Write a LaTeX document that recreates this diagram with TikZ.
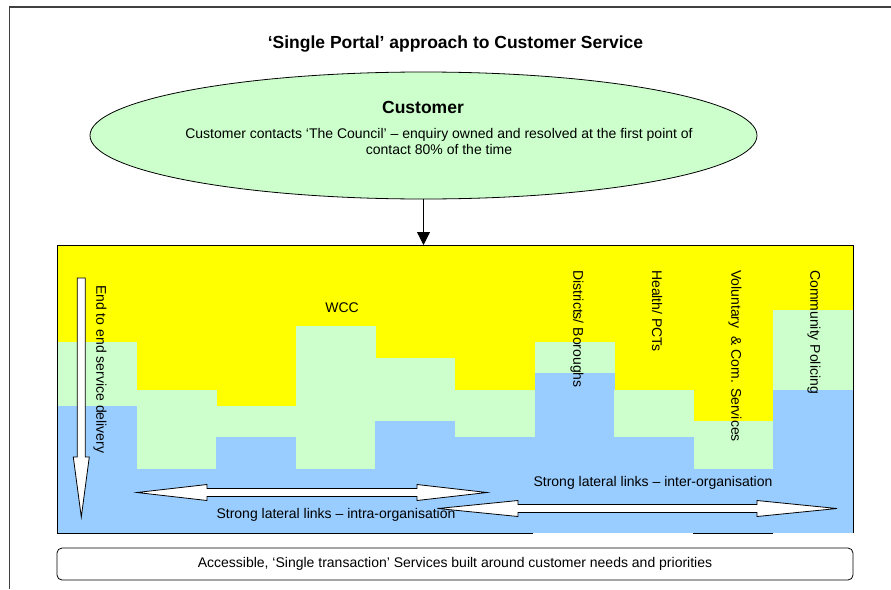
\documentclass[tikz,border=0pt]{standalone}
\usepackage{fontspec}
\setmainfont{Liberation Sans}
\usetikzlibrary{shapes.geometric,arrows.meta}

\definecolor{wccyellow}{HTML}{FFFF00}
\definecolor{palegreen}{HTML}{CCFFCC}
\definecolor{skyblue}{HTML}{99CCFF}

\tikzset{
    txt/.style={inner sep=0pt, font=\fontsize{14}{16}\selectfont},
    headtxt/.style={inner sep=0pt, font=\bfseries\fontsize{17.5}{20}\selectfont},
    vtxt/.style={txt, rotate=-90, anchor=west},
    blockarrow/.style={draw=black, fill=white, line width=0.8pt},
}

\begin{document}
\begin{tikzpicture}[x=1pt, y=-1pt]
        \useasboundingbox (0,0) rectangle (891,589);
        \draw[line width=1.2pt, black!75] (9.5,589) -- (9.5,7) -- (891,7);
        \node[headtxt] (title) at (455.5,44) {‘Single Portal’ approach to Customer Service};

        % customer ellipse
        \node[ellipse, draw, fill=palegreen, line width=0.8pt, minimum width=667, minimum height=127, inner sep=0pt] (customer) at (423.5,135.5) {};
        \node[headtxt] (custname) at (423,107) {Customer};
        \node[txt, align=center] (custtext) at (439,141.5) {Customer contacts ‘The Council’ – enquiry owned and resolved at the first point of\\contact 80\% of the time};

        % organisations: yellow / green / blue bands per column
        \node[fill=wccyellow, minimum width=796, minimum height=288, inner sep=0pt, anchor=north west] (panel) at (57,245) {};
        \foreach \yb/\gb [count=\i from 0] in {342/406, 390/469, 406/437, 326/469, 358/421, 390/437, 342/373, 390/437, 421/469, 310/390} {
            \fill[palegreen] ({57+79.6*\i},\yb) rectangle ++(80,{533-\yb});
            \fill[skyblue] ({57+79.6*\i},\gb) rectangle ++(80,{533-\gb});
        }
        \draw[line width=0.8pt] (panel.south west) -- (panel.north west) -- (panel.north east) -- (panel.south east);
        \draw[line width=0.8pt] ([yshift=0.5pt]panel.south west) -- ++(476,0);
        \draw[line width=0.8pt] ([yshift=0.5pt]panel.south west) ++(636,0) -- ++(80,0);
        \draw[line width=0.8pt, -{Triangle[width=13pt, length=13pt]}] (customer.south) -- (customer.south |- panel.north);

        % block arrows
        \draw[blockarrow] (77.3,278) -- (85.3,278) -- (85.3,457) -- (89.3,457) -- (81.3,517) -- (73.3,457) -- (77.3,457) -- cycle;
        \draw[blockarrow] (137,492.5) -- (207,484.5) -- (207,488.5) -- (417,488.5) -- (417,484.5) -- (487,492.5)
            -- (417,500.5) -- (417,496.5) -- (207,496.5) -- (207,500.5) -- cycle;
        \draw[blockarrow] (438,508.5) -- (518,500.5) -- (518,504.5) -- (757,504.5) -- (757,500.5) -- (837,508.5)
            -- (757,516.5) -- (757,512.5) -- (518,512.5) -- (518,516.5) -- cycle;

        \node[vtxt] (endtoend) at (100,285) {End to end service delivery};
        \node[txt] (wcc) at (342,308) {WCC};
        \node[vtxt] (districts) at (577,270) {Districts/ Boroughs};
        \node[vtxt] (health) at (657,270) {Health/ PCTs};
        \node[vtxt] (voluntary) at (735,270) {Voluntary\ \ \& Com. Services};
        \node[vtxt] (policing) at (814,270) {Community Policing};
        \node[txt] (intra) at (336,515) {Strong lateral links – intra-organisation};
        \node[txt] (inter) at (653,483) {Strong lateral links – inter-organisation};

        \node[txt, draw, rounded corners=5pt, line width=0.8pt, minimum width=796, minimum height=32] (services) at (455,564) {Accessible, ‘Single transaction’ Services built around customer needs and priorities};
    \end{tikzpicture}
\end{document}
